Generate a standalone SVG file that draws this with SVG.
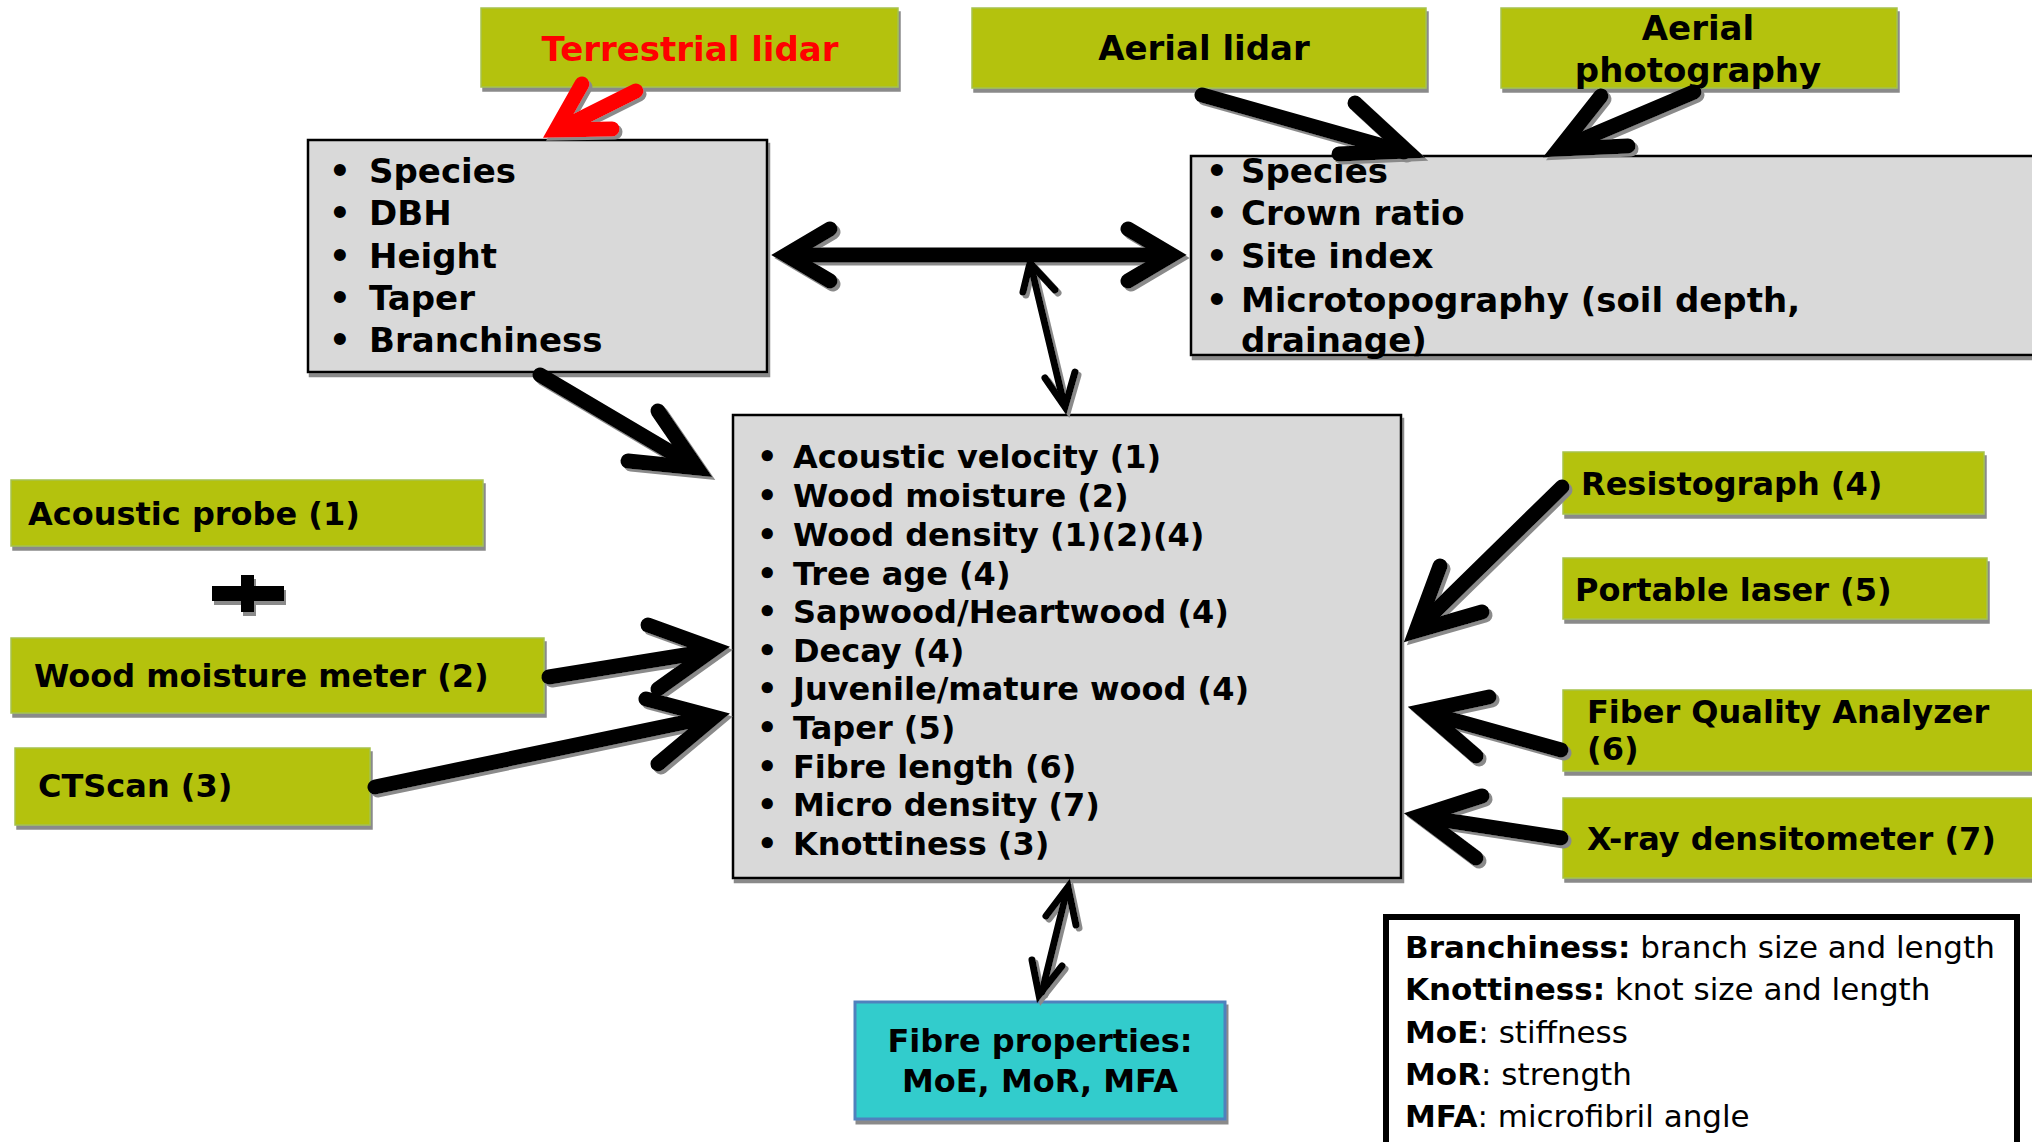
<svg xmlns="http://www.w3.org/2000/svg" width="2032" height="1142" viewBox="0 0 2032 1142">
<defs>
<filter id="sh" x="-10%" y="-10%" width="130%" height="140%">
<feDropShadow dx="2" dy="4" stdDeviation="0.6" flood-color="#8a8a8a" flood-opacity="1"/>
</filter>
<filter id="ash" x="-20%" y="-20%" width="140%" height="140%">
<feDropShadow dx="3" dy="3" stdDeviation="0.6" flood-color="#8a8a8a" flood-opacity="1"/>
</filter>
<style>
.g{fill:#B4C20F;stroke:#A6C24E;stroke-width:1.5}
.gr{fill:#D9D9D9;stroke:#000;stroke-width:2.5}
.t{font-family:"DejaVu Sans",Verdana,sans-serif;font-weight:bold;fill:#000}
.s34{font-size:34px}
.s32{font-size:32px}
.lg{font-family:"DejaVu Sans",Verdana,sans-serif;font-size:31px;fill:#000}
.lg .b{font-weight:bold}
.a{fill:none;stroke:#000;stroke-width:15;stroke-linecap:round;stroke-linejoin:miter;stroke-miterlimit:6}
.an{fill:none;stroke:#000;stroke-width:7;stroke-linecap:round;stroke-linejoin:miter;stroke-miterlimit:6}
.red{stroke:#FF0000}
</style>
</defs>
<rect width="2032" height="1142" fill="#fff"/>

<g id="terrestrial-lidar">
<rect class="g" x="481" y="8" width="417" height="79" filter="url(#sh)"/>
<text class="t s34" x="690" y="61" text-anchor="middle" style="fill:#FF0000">Terrestrial lidar</text>
</g>

<g id="aerial-lidar">
<rect class="g" x="972" y="8" width="454" height="80" filter="url(#sh)"/>
<text class="t s34" x="1204" y="60" text-anchor="middle">Aerial lidar</text>
</g>

<g id="aerial-photography">
<rect class="g" x="1501" y="8" width="396" height="80" filter="url(#sh)"/>
<text class="t s34" x="1698" y="40" text-anchor="middle">Aerial</text>
<text class="t s34" x="1698" y="82" text-anchor="middle">photography</text>
</g>

<g id="tree-attributes">
<rect class="gr" x="308" y="140" width="459" height="232" filter="url(#sh)"/>
<g class="t s34">
<text x="329" y="183">•</text><text x="369" y="183">Species</text>
<text x="329" y="225">•</text><text x="369" y="225">DBH</text>
<text x="329" y="268">•</text><text x="369" y="268">Height</text>
<text x="329" y="310">•</text><text x="369" y="310">Taper</text>
<text x="329" y="352">•</text><text x="369" y="352">Branchiness</text>
</g>
</g>

<g id="site-attributes">
<rect class="gr" x="1191" y="156" width="900" height="199" filter="url(#sh)"/>
<g class="t s34">
<text x="1206" y="183">•</text><text x="1241" y="183">Species</text>
<text x="1206" y="225">•</text><text x="1241" y="225">Crown ratio</text>
<text x="1206" y="268">•</text><text x="1241" y="268">Site index</text>
<text x="1206" y="312">•</text><text x="1241" y="312">Microtopography (soil depth,</text>
<text x="1241" y="352">drainage)</text>
</g>
</g>

<g id="wood-properties">
<rect class="gr" x="733" y="415" width="668" height="463" filter="url(#sh)"/>
<g class="t s32">
<text x="757" y="468">•</text><text x="793" y="468">Acoustic velocity (1)</text>
<text x="757" y="507">•</text><text x="793" y="507">Wood moisture (2)</text>
<text x="757" y="546">•</text><text x="793" y="546">Wood density (1)(2)(4)</text>
<text x="757" y="585">•</text><text x="793" y="585">Tree age (4)</text>
<text x="757" y="623">•</text><text x="793" y="623">Sapwood/Heartwood (4)</text>
<text x="757" y="662">•</text><text x="793" y="662">Decay (4)</text>
<text x="757" y="700">•</text><text x="793" y="700">Juvenile/mature wood (4)</text>
<text x="757" y="739">•</text><text x="793" y="739">Taper (5)</text>
<text x="757" y="778">•</text><text x="793" y="778">Fibre length (6)</text>
<text x="757" y="816">•</text><text x="793" y="816">Micro density (7)</text>
<text x="757" y="855">•</text><text x="793" y="855">Knottiness (3)</text>
</g>
</g>

<g id="acoustic-probe">
<rect class="g" x="11" y="480" width="472" height="66" filter="url(#sh)"/>
<text class="t s32" x="28" y="525">Acoustic probe (1)</text>
</g>

<g id="plus" filter="url(#sh)">
<rect x="212" y="586" width="72" height="15" fill="#000"/>
<rect x="241" y="575" width="13" height="37" fill="#000"/>
</g>

<g id="wood-moisture-meter">
<rect class="g" x="11" y="638" width="533" height="75" filter="url(#sh)"/>
<text class="t s32" x="34" y="687">Wood moisture meter (2)</text>
</g>

<g id="ctscan">
<rect class="g" x="15" y="748" width="355" height="77" filter="url(#sh)"/>
<text class="t s32" x="38" y="797">CTScan (3)</text>
</g>

<g id="resistograph">
<rect class="g" x="1563" y="452" width="421" height="62" filter="url(#sh)"/>
<text class="t s32" x="1581" y="495">Resistograph (4)</text>
</g>

<g id="portable-laser">
<rect class="g" x="1563" y="558" width="424" height="61" filter="url(#sh)"/>
<text class="t s32" x="1575" y="601">Portable laser (5)</text>
</g>

<g id="fiber-quality-analyzer">
<rect class="g" x="1563" y="690" width="500" height="81" filter="url(#sh)"/>
<text class="t s32" x="1587" y="723">Fiber Quality Analyzer</text>
<text class="t s32" x="1587" y="760">(6)</text>
</g>

<g id="xray-densitometer">
<rect class="g" x="1563" y="798" width="500" height="80" filter="url(#sh)"/>
<text class="t s32" x="1587" y="850">X-ray densitometer (7)</text>
</g>

<g id="fibre-properties">
<rect x="855" y="1002" width="370" height="117" fill="#33CCCC" stroke="#4F81BD" stroke-width="3" filter="url(#sh)"/>
<text class="t s32" x="1040" y="1052" text-anchor="middle">Fibre properties:</text>
<text class="t s32" x="1040" y="1092" text-anchor="middle">MoE, MoR, MFA</text>
</g>

<g id="legend">
<rect x="1386" y="917" width="631" height="240" fill="#fff" stroke="#000" stroke-width="6"/>
<text class="lg" x="1405" y="958"><tspan class="b">Branchiness:</tspan> branch size and length</text>
<text class="lg" x="1405" y="1000"><tspan class="b">Knottiness:</tspan> knot size and length</text>
<text class="lg" x="1405" y="1043"><tspan class="b">MoE</tspan>: stiffness</text>
<text class="lg" x="1405" y="1085"><tspan class="b">MoR</tspan>: strength</text>
<text class="lg" x="1405" y="1127"><tspan class="b">MFA</tspan>: microfibril angle</text>
</g>

<g id="connectors" filter="url(#ash)">
<!-- Terrestrial lidar -> box1 (red) -->
<path class="a red" d="M636,91 L560,129"/>
<path class="a red" d="M582,84 L556,130 L612,129"/>
<!-- Aerial lidar -> box2 -->
<path class="a" d="M1202,95 L1404,152"/>
<path class="a" d="M1355,103 L1407,151 L1339,154"/>
<!-- Aerial photography -> box2 -->
<path class="a" d="M1694,92 L1562,148"/>
<path class="a" d="M1601,96 L1559,149 L1628,146"/>
<!-- box1 <-> box2 -->
<path class="a" d="M790,255 L1168,255"/>
<path class="a" d="M830,229 L786,255 L830,281"/>
<path class="a" d="M1128,229 L1172,255 L1128,281"/>
<!-- horizontal arrow <-> center box -->
<path class="an" d="M1031,266 L1064,404"/>
<path class="an" d="M1023,292 L1030,263 L1055,290"/>
<path class="an" d="M1045,378 L1065,407 L1075,372"/>
<!-- box1 -> center -->
<path class="a" d="M540,375 L694,466"/>
<path class="a" d="M658,411 L697,468 L628,461"/>
<!-- Wood moisture meter -> center -->
<path class="a" d="M549,677 L710,651"/>
<path class="a" d="M648,625 L714,649 L658,689"/>
<!-- CTScan -> center -->
<path class="a" d="M375,787 L710,717"/>
<path class="a" d="M646,699 L714,717 L658,764"/>
<!-- Resistograph -> center -->
<path class="a" d="M1562,487 L1419,627"/>
<path class="a" d="M1440,566 L1416,631 L1482,612"/>
<!-- FQA -> center -->
<path class="a" d="M1561,750 L1428,713"/>
<path class="a" d="M1489,697 L1424,711 L1476,756"/>
<!-- X-ray -> center -->
<path class="a" d="M1561,838 L1424,817"/>
<path class="a" d="M1482,796 L1420,816 L1476,858"/>
<!-- center <-> fibre -->
<path class="an" d="M1067,890 L1042,992"/>
<path class="an" d="M1046,916 L1068,887 L1076,925"/>
<path class="an" d="M1032,960 L1039,995 L1062,966"/>
</g>
</svg>
